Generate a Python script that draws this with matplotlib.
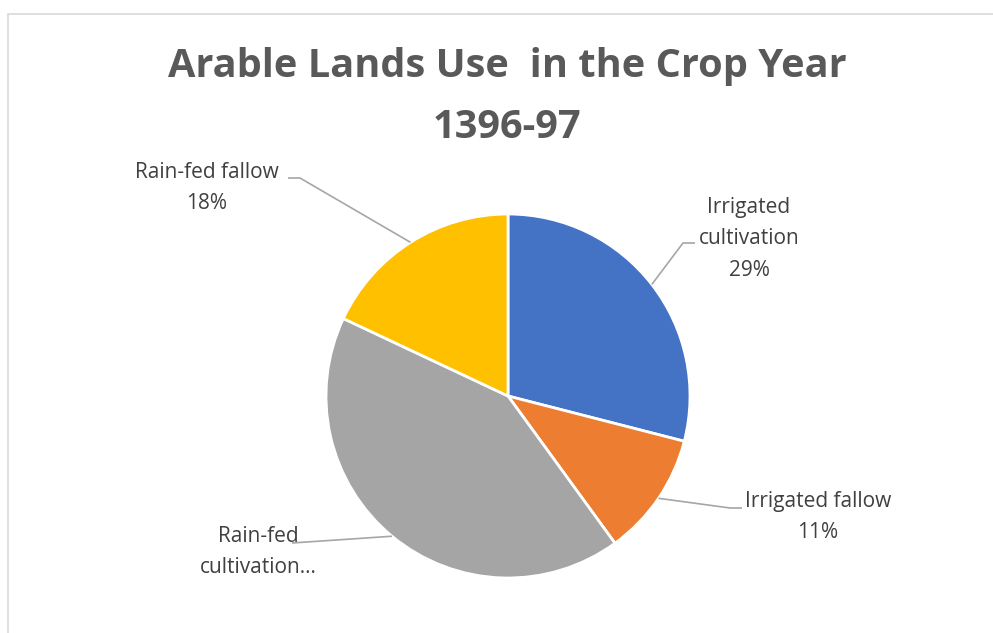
import numpy as np
import matplotlib.pyplot as plt
from matplotlib.patches import Rectangle

# data
labels = ['Irrigated\ncultivation', 'Irrigated fallow', 'Rain-fed\ncultivation...', 'Rain-fed fallow']
shares = [29, 11, 42, 18]
colors = ['#4472C4', '#ED7D31', '#A5A5A5', '#FFC000']

W, H = 993, 633
fig = plt.figure(figsize=(W / 100, H / 100), dpi=100)
ax = fig.add_axes([0, 0, 1, 1])
ax.set_xlim(0, W)
ax.set_ylim(0, H)
ax.set_aspect('equal')
ax.axis('off')

def yy(y):
    # pixel row from top -> axes y
    return H - y

# chart frame (only left/top visible)
ax.add_patch(Rectangle((8, -20), W + 20, yy(14) + 20, fill=False,
                       edgecolor='#D9D9D9', linewidth=1.2))

cx, cy, r = 508, yy(396), 182
wedges, _ = ax.pie(shares, colors=colors, startangle=90, counterclock=False,
                   center=(cx, cy), radius=r,
                   wedgeprops=dict(edgecolor='white', linewidth=2))
ax.set_xlim(0, W)
ax.set_ylim(0, H)

ax.text(507, yy(67), 'Arable Lands Use  in the Crop Year', ha='center', va='center',
        fontsize=28.6, fontweight='bold', color='#595959', family='Open Sans')
ax.text(507, yy(128), '1396-97', ha='center', va='center',
        fontsize=28.6, fontweight='bold', color='#595959', family='Open Sans')

# label text positions (center of block) and leader elbow
label_pos = [(749, 239), (818, 517), (258, 552), (207, 188)]
elbows = [(683, 243, 695), (730, 508, 742), (292, 543, 292), (300, 178, 288)]

for w, lab, s, (tx, ty), (ex, ey, hx) in zip(wedges, labels, shares, label_pos, elbows):
    mid = np.deg2rad((w.theta1 + w.theta2) / 2)
    px, py = cx + r * np.cos(mid), cy + r * np.sin(mid)
    text = lab + '\n' + f'{s}%' if not lab.endswith('...') else lab
    ax.text(tx, yy(ty), text, ha='center', va='center', fontsize=15,
            color='#404040', family='Open Sans', linespacing=1.65)
    ax.plot([px, ex, hx], [py, yy(ey), yy(ey)], color='#A6A6A6', lw=1.2,
            solid_capstyle='butt')

fig.savefig('out.png', dpi=100)
